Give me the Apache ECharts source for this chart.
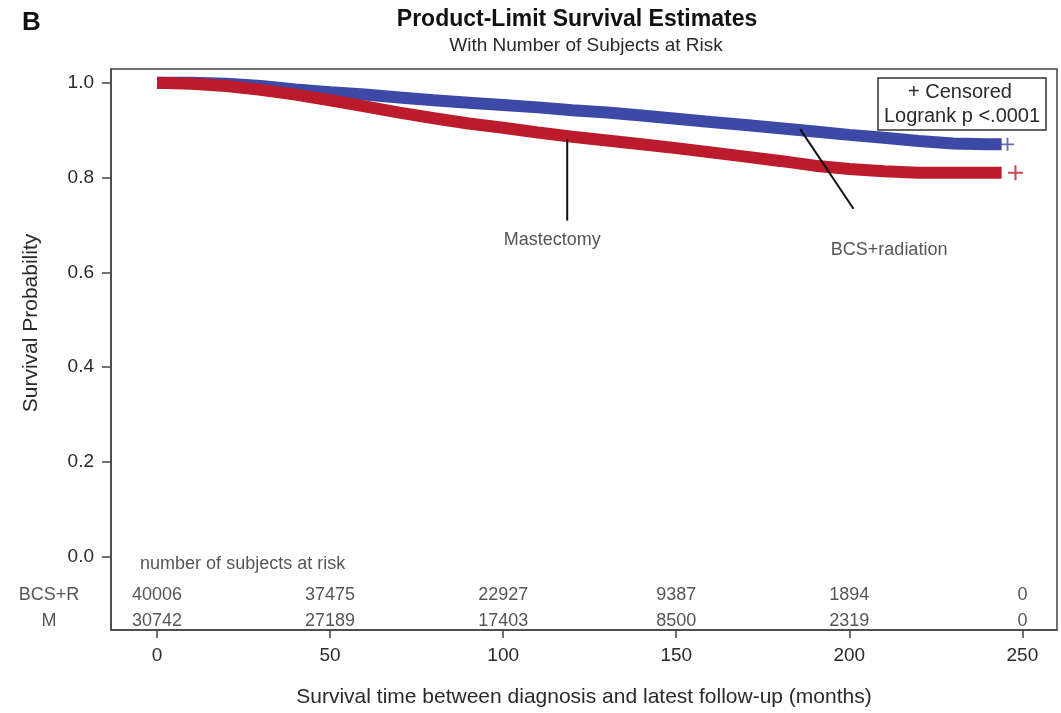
<!DOCTYPE html>
<html><head><meta charset="utf-8">
<script src="https://cdn.jsdelivr.net/npm/echarts@6/dist/echarts.min.js"></script>
<style>html,body{margin:0;padding:0;background:#fff}#c{width:1061px;height:713px}</style>
</head><body><div id="c"></div>
<script>
// ---- data ----
const months     = [0, 10, 20, 30, 40, 50, 60, 70, 80, 90, 100, 110, 120, 130, 140, 150, 160, 170, 180, 190, 200, 210, 220, 230, 240, 244];
const bcsR       = [1.0, 1.0, 0.998, 0.993, 0.986, 0.980, 0.975, 0.969, 0.963, 0.958, 0.953, 0.948, 0.942, 0.937, 0.931, 0.924, 0.917, 0.911, 0.904, 0.897, 0.890, 0.884, 0.877, 0.872, 0.870, 0.870];
const mastectomy = [1.0, 0.998, 0.993, 0.985, 0.975, 0.963, 0.950, 0.937, 0.925, 0.914, 0.905, 0.895, 0.886, 0.878, 0.870, 0.862, 0.853, 0.844, 0.835, 0.825, 0.818, 0.813, 0.810, 0.810, 0.810, 0.810];
const censorBCSR = [[245.7, 0.870]];
const censorM    = [[248, 0.810]];
const xTicks = [0, 50, 100, 150, 200, 250];
const yTicks = [0, 0.2, 0.4, 0.6, 0.8, 1.0];
const riskTimes = [0, 50, 100, 150, 200, 250];
const riskBCSR  = [40006, 37475, 22927, 9387, 1894, 0];
const riskM     = [30742, 27189, 17403, 8500, 2319, 0];
const riskRowLabels = ['BCS+R', 'M'];
const riskHeader = 'number of subjects at risk';
const mastLine = [[118.5, 0.881], [118.5, 0.709]];
const bcsLine  = [[185.8, 0.902], [201.2, 0.734]];
const mastLabel = [114.2, 0.667, 'Mastectomy'];
const bcsLabel  = [211.5, 0.646, 'BCS+radiation'];

// ---- chart ----
const FONT = '"Liberation Sans", Arial, sans-serif';
const TXT = '#2a2a2a';
const BLUE = '#3c49a6';
const RED = '#bb1b2b';
const rowY = [-0.0816, -0.136];
const headerY = -0.0167;
const plusPath = 'path://M4.3,0H5.7V4.3H10V5.7H5.7V10H4.3V5.7H0V4.3H4.3Z';

function textSeries(data, opts) {
  return Object.assign({
    type: 'scatter', symbolSize: 0.01, clip: false, silent: true, z: 5,
    data: data,
    label: { show: true, position: 'inside', formatter: p => p.value[2],
             color: TXT, fontFamily: FONT, fontSize: 18 }
  }, opts || {});
}

const riskData1 = riskTimes.map((t, i) => [t, rowY[0], String(riskBCSR[i])]);
const riskData2 = riskTimes.map((t, i) => [t, rowY[1], String(riskM[i])]);

const chart = echarts.init(document.getElementById('c'), null, { renderer: 'canvas' });
chart.setOption({
  animation: false,
  backgroundColor: '#fff',
  grid: { left: 111, right: 4, top: 69, bottom: 78, show: true, borderColor: '#444', borderWidth: 1.5 },
  xAxis: {
    type: 'value', min: -13.3, max: 260,
    name: 'Survival time between diagnosis and latest follow-up (months)',
    nameLocation: 'middle', nameGap: 57,
    nameTextStyle: { fontFamily: FONT, fontSize: 21, color: TXT },
    axisLine: { show: true, onZero: false, lineStyle: { color: '#444', width: 1.5 } },
    axisTick: { show: true, length: 8, customValues: xTicks, lineStyle: { color: '#444', width: 1.5 } },
    axisLabel: { customValues: xTicks, margin: 16, fontFamily: FONT, fontSize: 19, color: TXT },
    splitLine: { show: false }
  },
  yAxis: {
    type: 'value', min: -0.155, max: 1.029,
    axisLine: { show: true, onZero: false, lineStyle: { color: '#444', width: 1.5 } },
    axisTick: { show: true, length: 9, customValues: yTicks, lineStyle: { color: '#444', width: 1.5 } },
    axisLabel: { customValues: yTicks, margin: 17, formatter: v => v.toFixed(1), fontFamily: FONT, fontSize: 19, color: TXT },
    splitLine: { show: false }
  },
  series: [
    { name: 'BCS+radiation', type: 'line', symbol: 'none', z: 2,
      data: months.map((m, i) => [m, bcsR[i]]),
      lineStyle: { color: BLUE, width: 12, cap: 'butt', join: 'bevel' } },
    { name: 'Mastectomy', type: 'line', symbol: 'none', z: 3,
      data: months.map((m, i) => [m, mastectomy[i]]),
      lineStyle: { color: RED, width: 12, cap: 'butt', join: 'bevel' } },
    { type: 'scatter', symbol: plusPath, symbolSize: 13, z: 4, data: censorBCSR, itemStyle: { color: BLUE } },
    { type: 'scatter', symbol: plusPath, symbolSize: 15, z: 4, data: censorM, itemStyle: { color: RED } },
    { type: 'line', symbol: 'none', z: 6, data: mastLine, lineStyle: { color: '#111', width: 2 } },
    { type: 'line', symbol: 'none', z: 6, data: bcsLine, lineStyle: { color: '#111', width: 2 } },
    textSeries([mastLabel]),
    textSeries([bcsLabel]),
    textSeries([[-4.9, headerY, riskHeader]], { label: { show: true, position: 'right', distance: 0, formatter: p => p.value[2], color: TXT, fontFamily: FONT, fontSize: 18 } }),
    textSeries(riskData1),
    textSeries(riskData2),
    textSeries([[-31.2, rowY[0], riskRowLabels[0]], [-31.2, rowY[1], riskRowLabels[1]]])
  ],
  graphic: [
    { type: 'text', left: 22, top: 10, style: { text: 'B', font: 'bold 26px ' + FONT, fill: '#111' } },
    { type: 'text', x: 577, y: 20, style: { text: 'Product-Limit Survival Estimates', font: 'bold 23px ' + FONT, fill: '#111', align: 'center', verticalAlign: 'middle' } },
    { type: 'text', x: 586, y: 46, style: { text: 'With Number of Subjects at Risk', font: '19px ' + FONT, fill: TXT, align: 'center', verticalAlign: 'middle' } },
    { type: 'text', x: 31, y: 323, rotation: Math.PI / 2, style: { text: 'Survival Probability', font: '21px ' + FONT, fill: TXT, align: 'center', verticalAlign: 'middle' } },
    { type: 'rect', shape: { x: 878, y: 78, width: 168, height: 52 }, style: { fill: '#fff', stroke: '#333', lineWidth: 1.5 }, z: 10 },
    { type: 'text', x: 960, y: 92, z: 11, style: { text: '+ Censored', font: '20px ' + FONT, fill: TXT, align: 'center', verticalAlign: 'middle' } },
    { type: 'text', x: 962, y: 116, z: 11, style: { text: 'Logrank p <.0001', font: '20px ' + FONT, fill: TXT, align: 'center', verticalAlign: 'middle' } }
  ]
});
</script></body></html>
